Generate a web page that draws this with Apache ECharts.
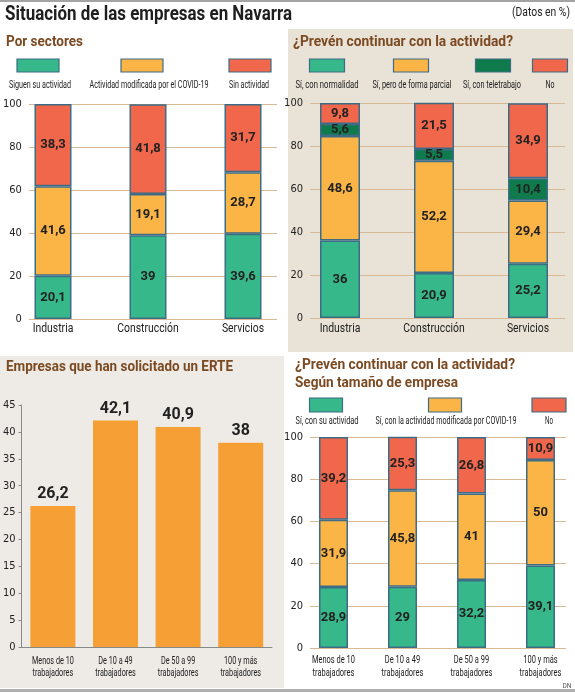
<!DOCTYPE html>
<html>
<head>
<meta charset="utf-8">
<script src="https://cdn.jsdelivr.net/npm/echarts@6/dist/echarts.min.js"></script>
<style>
html,body{margin:0;padding:0;background:#fff;}
#chart{width:575px;height:692px;}
</style>
</head>
<body>
<div id="chart"></div>
<script>
// datos (%)
const sectores = ['Industria', 'Construcción', 'Servicios'];
const sectorSiguen = [20.1, 39, 39.6];
const sectorModificada = [41.6, 19.1, 28.7];
const sectorSin = [38.3, 41.8, 31.7];
const sectorLegend = ['Siguen su actividad', 'Actividad modificada por el COVID-19', 'Sin actividad'];

const prevNormalidad = [36, 20.9, 25.2];
const prevParcial = [48.6, 52.2, 29.4];
const prevTeletrabajo = [5.6, 5.5, 10.4];
const prevNo = [9.8, 21.5, 34.9];
const prevLegend = ['Sí, con normalidad', 'Sí, pero de forma parcial', 'Sí, con teletrabajo', 'No'];

const tamanos = ['Menos de 10\ntrabajadores', 'De 10 a 49\ntrabajadores', 'De 50 a 99\ntrabajadores', '100 y más\ntrabajadores'];
const erte = [26.2, 42.1, 40.9, 38];
const tamSu = [28.9, 29, 32.2, 39.1];
const tamModificada = [31.9, 45.8, 41, 50];
const tamNo = [39.2, 25.3, 26.8, 10.9];
const tamLegend = ['Sí, con su actividad', 'Sí, con la actividad modificada por COVID-19', 'No'];

const GREEN = '#37b88a', YELLOW = '#fbb547', RED = '#f0674b', DARK = '#0f7a4c';
const BORDER = '#3d6d86', ORANGE = '#f59f35', BROWN = '#7b4a22';
const GRIDLINE = '#d9b894';
const NARROW = "'DejaVu Sans Condensed', 'Liberation Sans Narrow', sans-serif";

const chart = echarts.init(document.getElementById('chart'));

// texto estrecho: se escala en horizontal hasta el ancho de la imagen
const measureCtx = document.createElement('canvas').getContext('2d');
function txt(text, x, y, size, width, opts) {
    opts = opts || {};
    const weight = opts.weight || 'normal';
    const family = opts.family || 'Roboto';
    let scale = opts.scale || 1;
    if (width) {
        measureCtx.font = weight + ' ' + size + 'px ' + family;
        scale = width / measureCtx.measureText(text).width;
    }
    return {
        type: 'text', x: x, y: y, z: 20, silent: true,
        scaleX: scale,
        style: {
            text: text, fontSize: size, fontWeight: weight, fontFamily: family,
            fill: opts.color || '#222', lineHeight: opts.lineHeight,
            align: opts.align || 'left', verticalAlign: 'middle',
            textAlign: opts.align || 'left', textVerticalAlign: 'middle'
        }
    };
}
function swatch(cx, y, w, h, color) {
    return {
        type: 'rect', z: 20,
        shape: {x: cx - w / 2, y: y, width: w, height: h},
        style: {fill: color, stroke: BORDER, lineWidth: 1.2}
    };
}
function rect(x, y, w, h, color) {
    return {type: 'rect', z: -10, silent: true, shape: {x: x, y: y, width: w, height: h}, style: {fill: color}};
}

const fmt = p => String(p.value).replace('.', ',');
const insideLabel = {show: true, position: 'inside', formatter: fmt, fontFamily: 'Roboto', fontWeight: 'bold', fontSize: 13, color: '#222'};

function stack(name, data, color, x, y, width, stackName) {
    return {
        name: name, type: 'bar', stack: stackName, data: data,
        xAxisIndex: x, yAxisIndex: y, barWidth: width,
        itemStyle: {color: color, borderColor: BORDER, borderWidth: 1.5},
        label: insideLabel
    };
}

// ejes de fondo (solo líneas horizontales y números)
function bgAxes(grid) {
    return {
        x: {gridIndex: grid, type: 'value', show: false, min: 0, max: 1},
        y: {
            gridIndex: grid, type: 'value', min: 0, max: 100, interval: 20,
            axisLine: {show: false}, axisTick: {show: false},
            axisLabel: {fontFamily: NARROW, fontSize: 11, color: '#222', margin: 7},
            splitLine: {lineStyle: {color: GRIDLINE, width: 1}}
        }
    };
}
// las etiquetas de categoría se dibujan luego como texto estrecho
function barAxes(grid, cats) {
    return {
        x: {
            gridIndex: grid, type: 'category', data: cats,
            axisLine: {show: false}, axisTick: {show: false}, axisLabel: {show: false}
        },
        y: {gridIndex: grid, type: 'value', min: 0, max: 100, show: false}
    };
}

const a0 = bgAxes(0), a1 = barAxes(1, sectores);
const a2 = bgAxes(2), a3 = barAxes(3, sectores);
const a5 = bgAxes(5), a6 = barAxes(6, tamanos);

const a4 = {
    x: {
        gridIndex: 4, type: 'category', data: tamanos,
        axisLine: {lineStyle: {color: '#888', width: 1}},
        axisTick: {inside: true, length: 5, lineStyle: {color: '#888'}},
        axisLabel: {show: false}
    },
    y: {
        gridIndex: 4, type: 'value', min: 0, max: 45, interval: 5,
        axisLine: {show: true, lineStyle: {color: '#888', width: 1}},
        axisTick: {show: true, length: 3, lineStyle: {color: '#888'}},
        axisLabel: {fontFamily: NARROW, fontSize: 11, color: '#222', margin: 6},
        splitLine: {show: false}
    }
};

const graphics = [
    rect(0, 0, 575, 2, '#a3a3a3'),
    rect(288, 29, 285, 323, '#e9e2d6'),
    rect(0, 356, 284, 332, '#eeebe6'),
    rect(0, 689, 575, 3, '#b0b0b0'),
    txt('Situación de las empresas en Navarra', 5, 15, 20, 287, {weight: 'bold', color: '#1e1e1e'}),
    txt('(Datos en %)', 570, 13, 12, 58, {align: 'right'}),
    txt('Por sectores', 6, 42, 15, 77, {weight: 'bold', color: BROWN}),
    txt('¿Prevén continuar con la actividad?', 293, 42, 15, 220, {weight: 'bold', color: BROWN}),
    txt('Empresas que han solicitado un ERTE', 6, 367, 15, 227, {weight: 'bold', color: BROWN}),
    txt('¿Prevén continuar con la actividad?', 295, 365, 15, 220, {weight: 'bold', color: BROWN}),
    txt('Según tamaño de empresa', 295, 383, 15, 163, {weight: 'bold', color: BROWN}),
    txt('DN', 567, 686, 7, 9, {align: 'center', color: '#555'}),
    // leyendas
    swatch(38, 59, 42, 13, GREEN), swatch(142, 59, 42, 13, YELLOW), swatch(250, 59, 42, 13, RED),
    txt(sectorLegend[0], 40, 85, 10, 62, {align: 'center'}),
    txt(sectorLegend[1], 149, 85, 10, 119, {align: 'center'}),
    txt(sectorLegend[2], 249, 85, 10, 40, {align: 'center'}),
    swatch(327, 59, 35, 13, GREEN), swatch(411, 59, 35, 13, YELLOW), swatch(493, 59, 35, 13, DARK), swatch(550, 59, 35, 13, RED),
    txt(prevLegend[0], 327, 85, 10, 63, {align: 'center'}),
    txt(prevLegend[1], 412, 85, 10, 79, {align: 'center'}),
    txt(prevLegend[2], 492, 85, 10, 58, {align: 'center'}),
    txt(prevLegend[3], 550, 85, 10, 9, {align: 'center'}),
    swatch(326, 398, 33, 14, GREEN), swatch(445, 398, 33, 14, YELLOW), swatch(549, 398, 34, 14, RED),
    txt(tamLegend[0], 327, 421, 10, 63, {align: 'center'}),
    txt(tamLegend[1], 446, 421, 10, 141, {align: 'center'}),
    txt(tamLegend[2], 549, 421, 10, 8, {align: 'center'})
];

const option = {
    animation: false,
    backgroundColor: '#fff',
    graphic: {elements: graphics},
    grid: [
        {left: 20, width: 257, top: 104, height: 215},
        {left: 5.5, width: 285, top: 104, height: 215},
        {left: 310, width: 255, top: 103, height: 215},
        {left: 293, width: 292.5, top: 103, height: 215},
        {left: 20, width: 252, top: 405, height: 242},
        {left: 310, width: 256, top: 437, height: 211},
        {left: 299, width: 279, top: 437, height: 211}
    ],
    xAxis: [a0.x, a1.x, a2.x, a3.x, a4.x, a5.x, a6.x],
    yAxis: [a0.y, a1.y, a2.y, a3.y, a4.y, a5.y, a6.y],
    series: [
        stack(sectorLegend[0], sectorSiguen, GREEN, 1, 1, 37, 's'),
        stack(sectorLegend[1], sectorModificada, YELLOW, 1, 1, 37, 's'),
        stack(sectorLegend[2], sectorSin, RED, 1, 1, 37, 's'),

        stack(prevLegend[0], prevNormalidad, GREEN, 3, 3, 40, 'p'),
        stack(prevLegend[1], prevParcial, YELLOW, 3, 3, 40, 'p'),
        stack(prevLegend[2], prevTeletrabajo, DARK, 3, 3, 40, 'p'),
        stack(prevLegend[3], prevNo, RED, 3, 3, 40, 'p'),

        {
            name: 'ERTE', type: 'bar', data: erte, xAxisIndex: 4, yAxisIndex: 4, barWidth: 45,
            itemStyle: {color: ORANGE},
            label: {show: true, position: 'top', distance: 4, formatter: fmt, fontFamily: 'Roboto', fontWeight: 'bold', fontSize: 16, color: '#222'}
        },

        stack(tamLegend[0], tamSu, GREEN, 6, 6, 29, 't'),
        stack(tamLegend[1], tamModificada, YELLOW, 6, 6, 29, 't'),
        stack(tamLegend[2], tamNo, RED, 6, 6, 29, 't')
    ]
};
chart.setOption(option);

// etiquetas de categoría en la posición que da el eje
function catLabels(axisIndex, cats, y, size, scale, lh) {
    return cats.map(c => {
        const x = chart.convertToPixel({xAxisIndex: axisIndex}, c);
        return txt(c, x, y, size, null, {align: 'center', scale: scale, lineHeight: lh});
    });
}
const catTexts = [].concat(
    catLabels(1, sectores, 329, 13, 0.8),
    catLabels(3, sectores, 329, 13, 0.8),
    catLabels(4, tamanos, 667.5, 11, 0.66, 12),
    catLabels(6, tamanos, 666.5, 11, 0.68, 13)
);
chart.setOption({graphic: {elements: graphics.concat(catTexts)}});
</script>
</body>
</html>
